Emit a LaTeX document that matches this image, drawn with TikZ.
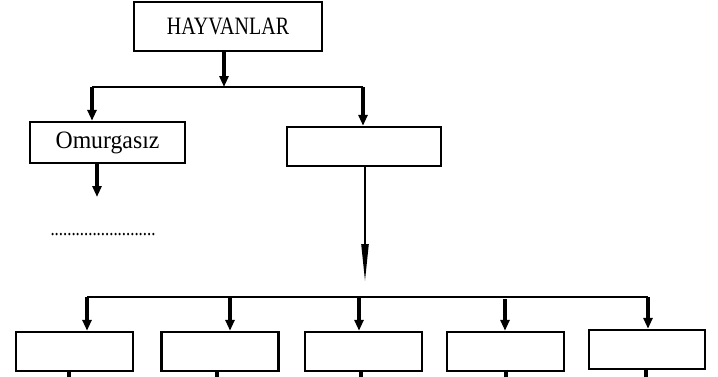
\documentclass[tikz,border=0pt]{standalone}
\usepackage{fontspec}
\setmainfont{Liberation Serif}
\newfontfamily\boxfont[FakeStretch=0.8]{Liberation Serif}
\newfontfamily\lowerfont[FakeStretch=0.95]{Liberation Serif}
\usetikzlibrary{positioning,arrows.meta}

\begin{document}
\begin{tikzpicture}[x=1pt,y=-1pt,>={Triangle[length=11pt,width=9pt]}]

    %
    % Styles for boxes, bus lines and arrows
    %
    \tikzstyle{box} = [draw, line width=2.4pt, rectangle, inner sep=0pt,
                       minimum height=39pt, minimum width=117pt,
                       font={\boxfont\fontsize{25}{29}\selectfont}]
    \tikzstyle{bus} = [black, line width=2.2pt];
    \tikzstyle{drop} = [black, line width=3.2pt, ->];
    \tikzstyle{longDrop} = [black, line width=2.2pt, -{Triangle[length=38pt,width=7pt]}];
    \tikzstyle{stub} = [black, line width=3.2pt];

    \useasboundingbox (0,0) rectangle (718,376);

    %
    % Position boxes
    %
    \node[box, name=hayvanlar, minimum width=188pt, minimum height=49pt] at (228,26.5) {HAYVANLAR};
    \node[box, name=omurgasiz, minimum width=155pt, minimum height=41pt,
          font={\lowerfont\fontsize{25}{29}\selectfont}] at (107.5,142.5) {Omurgas\i z};
    \node[box, name=omurgali, minimum width=154pt] at (364,146.5) {};
    \node[name=dots, font={\boxfont\fontsize{21}{25}\selectfont}, inner sep=0pt] at (103,235) {.........................};

    \node[box, name=groupA] at (74.5,351.5) {};
    \node[box, name=groupB] at (220,351.5) {};
    \node[box, name=groupC] at (363.5,351.5) {};
    \node[box, name=groupD] at (505.5,351.5) {};
    \node[box, name=groupE, minimum width=116pt] at (647,349.5) {};

    %
    % Junction points
    %
    \coordinate (topFork) at (224,87);
    \coordinate (forkLeft) at (92,87);
    \coordinate (forkRight) at (363,87);
    \coordinate (omurgasizEnd) at (97,197);
    \coordinate (busTop) at (365,282);
    \coordinate (busLeft) at (87,297);
    \coordinate (busRight) at (648,297);
    \coordinate (busA) at (87,297);
    \coordinate (busB) at (230,297);
    \coordinate (busC) at (359,297);
    \coordinate (busD) at (505,299);
    \coordinate (busE) at (648,297);
    \coordinate (stubA) at (69,378);
    \coordinate (stubB) at (217,378);
    \coordinate (stubC) at (361,378);
    \coordinate (stubD) at (506,378);
    \coordinate (stubE) at (646,378);

    %
    % Connect boxes
    %
    \draw[drop] (hayvanlar.south -| topFork) -- (topFork);
    \draw[bus] (forkLeft) -- (forkRight);
    \draw[drop] (forkLeft) -- (forkLeft |- omurgasiz.north);
    \draw[drop] (forkRight) -- (forkRight |- omurgali.north);
    \draw[drop] (omurgasiz.south -| omurgasizEnd) -- (omurgasizEnd);
    \draw[longDrop] (omurgali.south -| busTop) -- (busTop);
    \draw[bus] (busLeft) -- (busRight);

    \foreach \g in {A,B,C,D,E} {
      \draw[drop] (bus\g) -- (bus\g |- group\g.north);
      \draw[stub] (group\g.south -| stub\g) -- (stub\g);
    }
\end{tikzpicture}
\end{document}
